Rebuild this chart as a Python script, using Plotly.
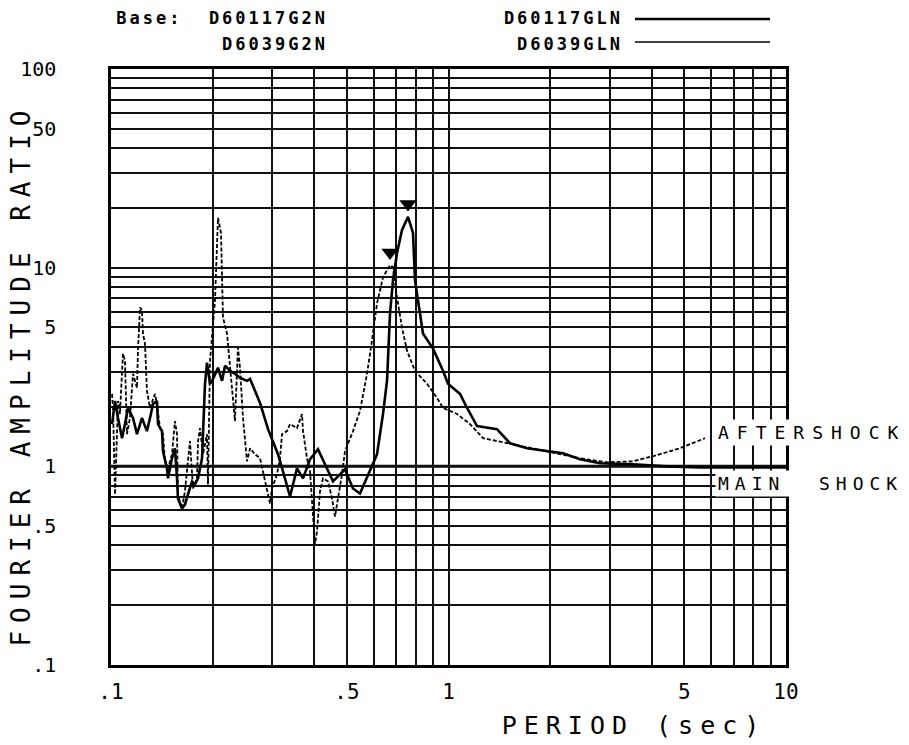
import plotly.graph_objects as go

# ---- data (period in sec, Fourier amplitude ratio) ----
period_main = [0.1007,0.1028,0.1049,0.1078,0.1100,0.1123,0.1162,0.1194,0.1235,0.1278,0.1305,0.1332,0.1368,0.1378,
               0.1416,0.1426,0.1465,0.1475,0.1516,0.1547,0.1569,0.1579,0.1623,0.1656,0.1690,0.1738,0.1774,0.1811,
               0.1861,0.1873,0.1899,0.1925,0.1965,0.2006,0.2075,0.2133,0.2177,0.2252,0.2330,0.2411,0.2529,0.2582,
               0.2764,0.2919,0.3125,0.3233,0.3392,0.3557,0.3706,0.3887,0.4105,0.4306,0.4548,0.4935,0.5212,0.5467,
               0.5775,0.6140,0.6396,0.6574,0.6710,0.6848,0.7038,0.7282,0.7586,0.7849,0.7956,0.8233,0.8402,0.8999,
               0.9632,0.9966,1.082,1.135,1.215,1.392,1.521,1.709,1.958,2.185,2.452,2.811,3.522,4.441,5.563,10.0]
ratio_main = [1.632,2.134,1.750,1.386,1.632,1.967,1.750,1.452,1.750,1.504,1.750,2.060,2.134,1.632,
              1.504,1.191,0.977,0.870,1.098,1.233,0.870,0.689,0.613,0.642,0.721,0.840,0.811,0.870,
              1.098,1.504,2.602,3.323,2.602,2.757,3.135,2.694,3.209,3.027,2.923,2.790,2.694,2.757,
              2.084,1.539,1.150,0.943,0.705,0.977,0.870,1.085,1.219,1.024,0.840,0.966,0.774,0.730,
              0.911,1.150,1.834,2.694,5.884,8.644,11.84,15.48,18.02,14.95,8.644,5.884,4.660,3.912,
              3.027,2.602,2.315,1.967,1.594,1.539,1.307,1.233,1.191,1.164,1.085,1.036,1.024,1.000,0.988,0.988]

period_after = [0.1007,0.1014,0.1028,0.1042,0.1049,0.1063,0.1078,0.1085,0.1100,0.1115,0.1138,0.1162,0.1194,0.1202,
                0.1219,0.1235,0.1244,0.1261,0.1278,0.1305,0.1350,0.1368,0.1397,0.1426,0.1445,0.1475,0.1516,0.1547,
                0.1569,0.1579,0.1623,0.1656,0.1690,0.1714,0.1750,0.1798,0.1811,0.1836,0.1873,0.1925,0.1938,0.1965,
                0.2033,0.2075,0.2118,0.2147,0.2207,0.2252,0.2299,0.2330,0.2378,0.2411,0.2461,0.2529,0.2582,0.2672,
                0.2764,0.2820,0.2899,0.2959,0.2999,0.3103,0.3168,0.3211,0.3322,0.3392,0.3557,0.3681,0.3706,0.3808,
                0.3887,0.3967,0.4022,0.4077,0.4162,0.4247,0.4395,0.4517,0.4610,0.4705,0.4835,0.4935,0.5212,0.5467,
                0.5735,0.5933,0.6140,0.6396,0.6710,0.6848,0.7038,0.7282,0.7534,0.7956,0.8638,0.9246,0.9632,1.060,
                1.158,1.266,1.491,1.958,2.452,2.948,3.522,4.035,4.852,5.754]
ratio_after = [2.315,1.967,0.721,1.750,2.134,1.834,2.923,3.691,3.401,1.452,1.750,2.923,2.483,3.821,
               6.310,6.093,4.660,4.147,2.397,1.967,2.315,2.060,1.557,1.452,1.060,0.977,1.150,1.690,
               1.452,0.721,0.613,0.747,1.060,1.339,0.774,0.870,1.339,1.557,1.150,1.452,0.811,3.401,
               6.845,17.81,14.95,5.615,4.660,3.135,2.134,1.690,3.957,3.135,1.750,1.060,1.233,1.150,
               1.098,0.943,0.774,0.650,0.774,0.911,1.098,1.452,1.504,1.632,1.557,1.834,1.504,1.098,
               0.943,0.545,0.403,0.469,0.747,0.870,0.840,0.689,0.558,0.689,0.911,1.191,1.504,1.899,
               2.923,4.295,6.610,8.952,10.29,10.06,7.088,4.997,3.821,3.027,2.602,2.210,1.967,1.834,
               1.632,1.386,1.307,1.191,1.098,1.048,1.060,1.124,1.233,1.386]

x_grid = [0.1,0.2,0.3,0.4,0.5,0.6,0.7,0.8,0.9,1,2,3,4,5,6,7,8,9,10]
x_labels = {0.1: ".1", 0.5: ".5", 1: "1", 5: "5", 10: "10"}
y_grid = [0.1,0.2,0.3,0.4,0.5,0.6,0.7,0.8,0.9,1,2,3,4,5,6,7,8,9,10,20,30,40,50,60,70,80,90,100]
y_labels = {0.1: ".1", 0.5: ".5", 1: "1", 5: "5", 10: "10", 50: "50", 100: "100"}

name_main = "D60117GLN"
name_after = "D6039GLN"
base_main = "Base:  D60117G2N"
base_after = "D6039G2N"

MONO = "DejaVu Sans Mono"

fig = go.Figure()
fig.add_trace(go.Scatter(x=period_after, y=ratio_after, mode="lines", name=name_after,
                         line=dict(color="black", width=1.8, dash="4px,2px"), showlegend=False))
fig.add_trace(go.Scatter(x=period_main, y=ratio_main, mode="lines", name=name_main,
                         line=dict(color="black", width=2.6), showlegend=False))

# peak markers (long-period resonance peaks)
def peak(px, py, tmin=0.5):
    cand = [(v, p) for p, v in zip(px, py) if p > tmin]
    v, p = max(cand)
    return p, v

for px, py in [(period_main, ratio_main), (period_after, ratio_after)]:
    p, v = peak(px, py)
    fig.add_trace(go.Scatter(x=[p], y=[v * 1.16], mode="markers", showlegend=False,
                             marker=dict(symbol="triangle-down", size=15, color="black")))

fig.update_xaxes(type="log", range=[-1, 1], tickvals=x_grid,
                 ticktext=[x_labels.get(v, "") for v in x_grid],
                 showgrid=True, gridcolor="#111", gridwidth=1.6,
                 showline=True, linecolor="black", linewidth=2.5, mirror=True,
                 ticks="", ticklabelstandoff=6,
                 tickfont=dict(family=MONO, size=21, color="black"))
fig.update_yaxes(type="log", range=[-1, 2], tickvals=y_grid,
                 ticktext=[y_labels.get(v, "") for v in y_grid],
                 showgrid=True, gridcolor="#111", gridwidth=1.5,
                 showline=True, linecolor="black", linewidth=2.5, mirror=True,
                 ticks="", ticklabelstandoff=48,
                 tickfont=dict(family=MONO, size=20, color="black"))

# heavy reference line at ratio = 1
fig.add_shape(type="line", xref="paper", yref="y", x0=0, x1=1, y0=1, y1=1,
              line=dict(color="black", width=3), layer="below")

def spaced(t, px):
    return '<span style="letter-spacing:%dpx">%s</span>' % (px, t)

ann = []
for txt, xx, yy in [(base_main, 0.3244, 1.0856), (base_after, 0.3244, 1.0420),
                    (name_main, 0.7615, 1.0856), (name_after, 0.7615, 1.0420)]:
    ann.append(dict(x=xx, y=yy, xref="paper", yref="paper", xanchor="right", yanchor="middle",
                    text=spaced("<b>" + txt + "</b>", 3), showarrow=False, width=240, align="right",
                    font=dict(family=MONO, size=17, color="black")))
ann.append(dict(x=-0.134, y=0.4866, xref="paper", yref="paper", xanchor="center", yanchor="middle",
                text=spaced("FOURIER AMPLITUDE RATIO", 8), textangle=-90, width=560,
                showarrow=False, font=dict(family=MONO, size=26, color="black")))
ann.append(dict(x=0.7748, y=-0.1007, xref="paper", yref="paper", xanchor="center", yanchor="middle",
                text=spaced("PERIOD (sec)", 7), width=280,
                showarrow=False, font=dict(family=MONO, size=25, color="black")))
ann.append(dict(x=0.8948, y=0.3893, xref="paper", yref="paper", xanchor="left", yanchor="middle",
                text=spaced("AFTERSHOCK", 8), showarrow=False, width=190, align="left", borderpad=2,
                bgcolor="white", font=dict(family=MONO, size=18, color="black")))
ann.append(dict(x=0.8948, y=0.3050, xref="paper", yref="paper", xanchor="left", yanchor="middle",
                text=spaced("MAIN  SHOCK", 6), showarrow=False, width=190, align="left", borderpad=2,
                bgcolor="white", font=dict(family=MONO, size=18, color="black")))

shapes_legend = [
    dict(type="line", xref="paper", yref="paper", x0=0.7763, x1=0.9763, y0=1.0839, y1=1.0839,
         line=dict(color="black", width=2.4)),
    dict(type="line", xref="paper", yref="paper", x0=0.7763, x1=0.9763, y0=1.0453, y1=1.0453,
         line=dict(color="black", width=1.5)),
]
for s in shapes_legend:
    fig.add_shape(**s)

fig.update_layout(width=909, height=745, margin=dict(l=111, r=123, t=69, b=80),
                  paper_bgcolor="white", plot_bgcolor="white", annotations=ann,
                  showlegend=False)

fig.write_html("out.html", config={"displayModeBar": False},
               post_script="document.body.style.margin='0';")
